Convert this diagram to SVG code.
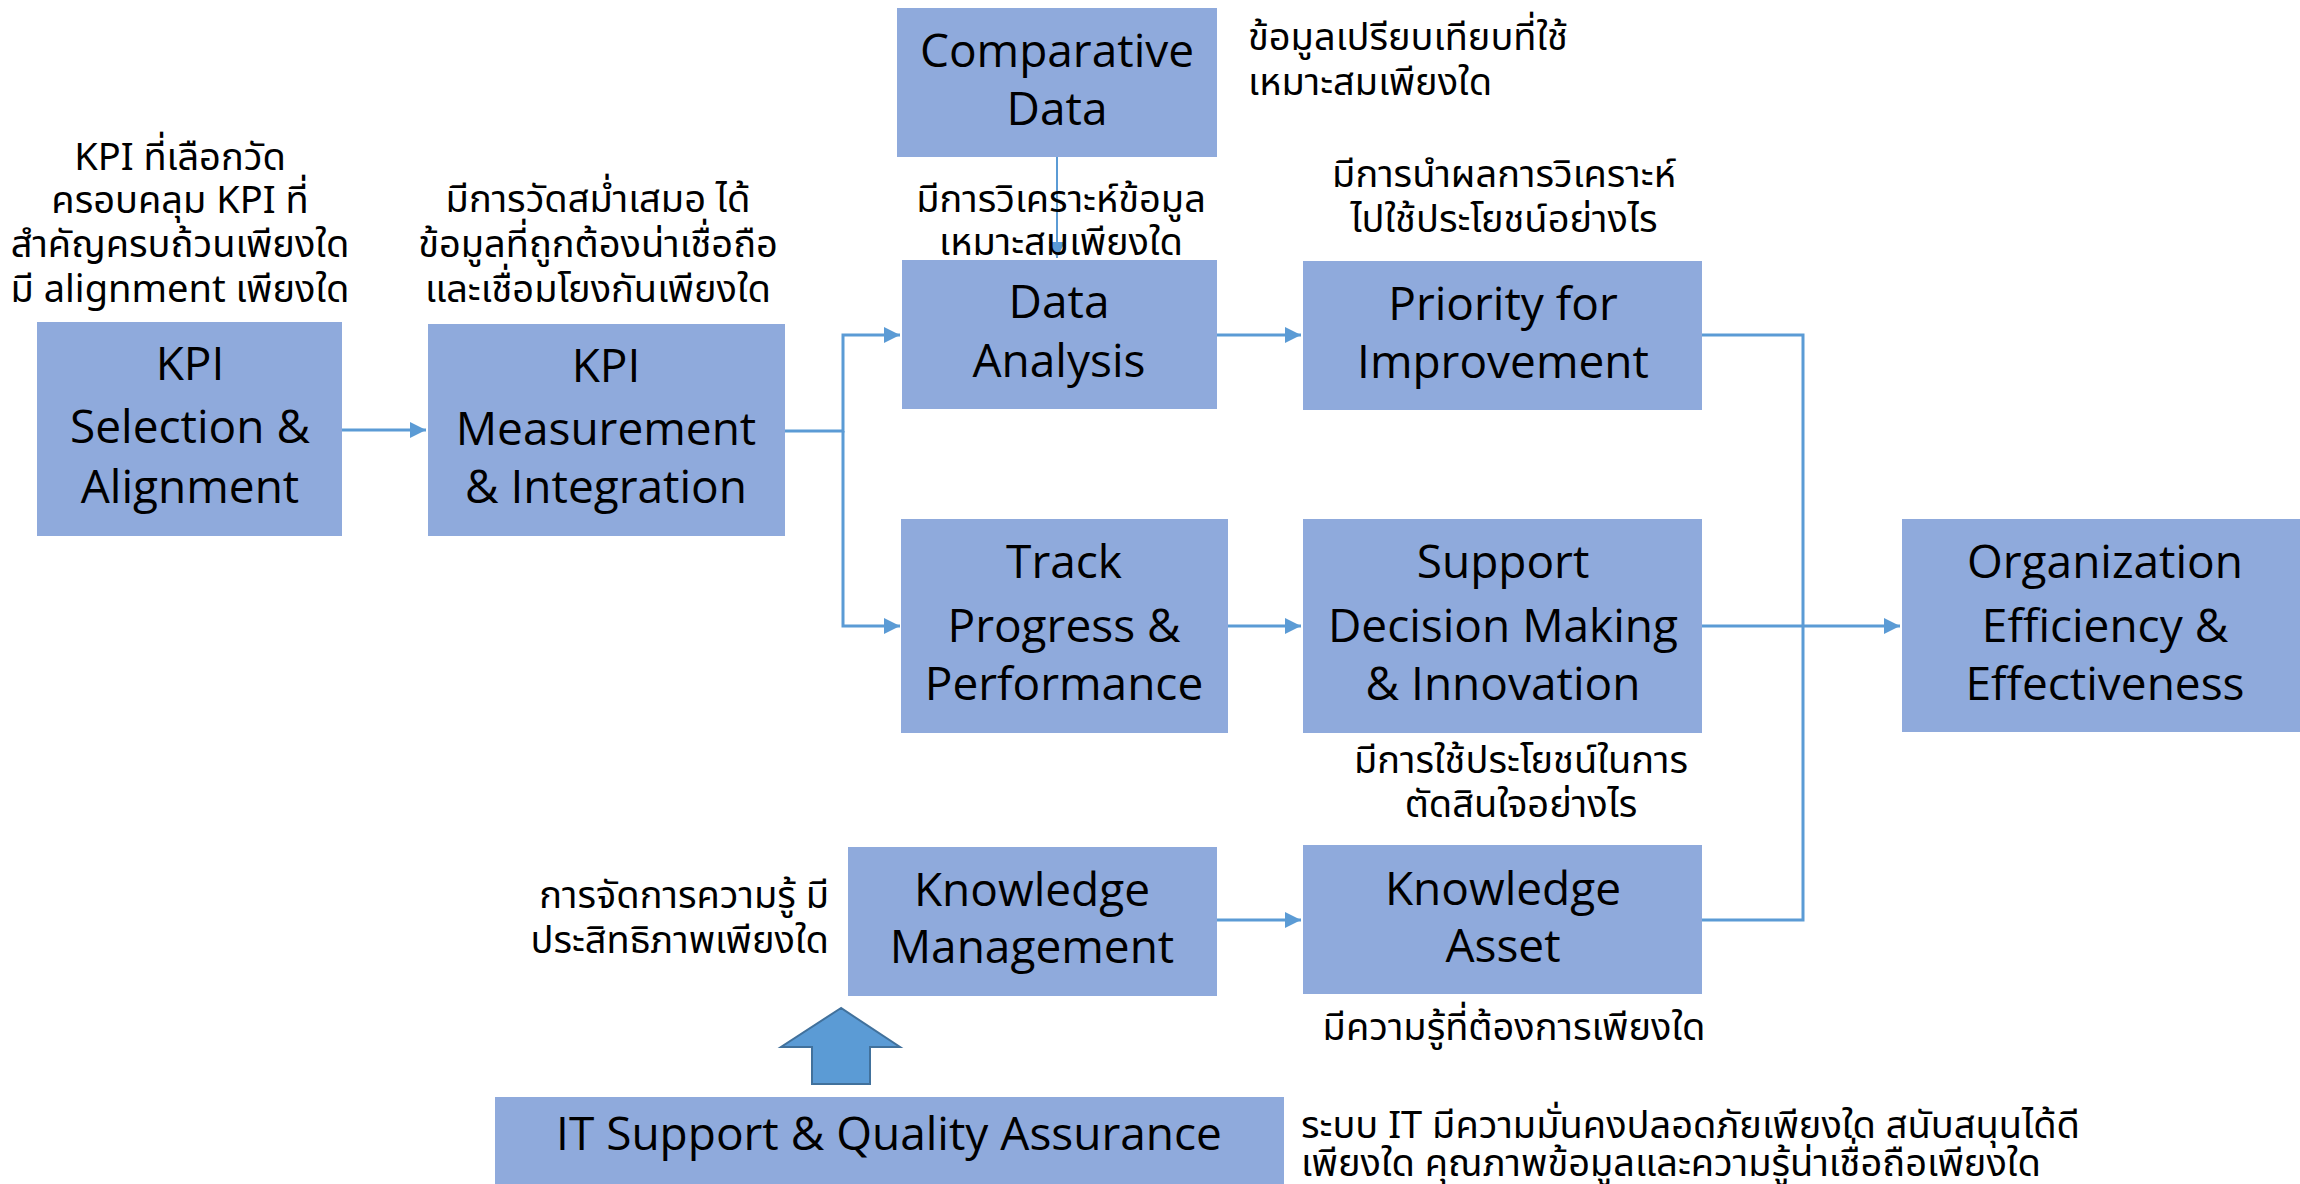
<svg xmlns="http://www.w3.org/2000/svg" width="2300" height="1184" viewBox="0 0 2300 1184">
<defs>
<marker id="ah" markerUnits="userSpaceOnUse" markerWidth="18" markerHeight="18" viewBox="0 0 18 18" refX="16" refY="9" orient="auto">
<path d="M0,1 L16,9 L0,17 Z" fill="#5B9BD5"/>
</marker>
<style>
.box{fill:#8FAADC}
.bt{font-family:"Open Sans","Noto Sans",sans-serif;font-size:46px;fill:#000;text-anchor:middle}
.th{font-family:"Noto Sans Thai","Noto Sans","Open Sans",sans-serif;font-size:38px;fill:#000}
.c{text-anchor:middle}
.r{text-anchor:end}
.l{text-anchor:start}
.cn{fill:none;stroke:#5B9BD5;stroke-width:3}
</style>
</defs>
<rect width="2300" height="1184" fill="#fff"/>

<g id="connectors">
<path class="cn" d="M342,430 H426" marker-end="url(#ah)"/>
<path class="cn" d="M785,431 H843 V335 H900" marker-end="url(#ah)"/>
<path class="cn" d="M843,431 V626 H900" marker-end="url(#ah)"/>
<path class="cn" d="M1057,157 V258" style="stroke-width:2" marker-end="url(#ah)"/>
<path class="cn" d="M1217,335 H1301" marker-end="url(#ah)"/>
<path class="cn" d="M1228,626 H1301" marker-end="url(#ah)"/>
<path class="cn" d="M1702,626 H1900" marker-end="url(#ah)"/>
<path class="cn" d="M1702,335 H1803 V626"/>
<path class="cn" d="M1702,920 H1803 V626"/>
<path class="cn" d="M1217,920 H1301" marker-end="url(#ah)"/>
<path d="M841,1008 L781,1047 L812,1047 L812,1084 L870,1084 L870,1047 L900,1047 Z" fill="#5B9BD5" stroke="#41719C" stroke-width="2"/>
</g>

<g id="kpi-selection">
<rect class="box" x="37" y="322" width="305" height="214"/>
<text class="bt" x="190" y="380">KPI</text>
<text class="bt" x="190" y="443">Selection &amp;</text>
<text class="bt" x="190" y="503">Alignment</text>
</g>

<g id="kpi-measurement">
<rect class="box" x="428" y="324" width="357" height="212"/>
<text class="bt" x="606" y="382">KPI</text>
<text class="bt" x="606" y="445">Measurement</text>
<text class="bt" x="606" y="503">&amp; Integration</text>
</g>

<g id="comparative-data">
<rect class="box" x="897" y="8" width="320" height="149"/>
<text class="bt" x="1057" y="67">Comparative</text>
<text class="bt" x="1057" y="125">Data</text>
</g>

<g id="data-analysis">
<rect class="box" x="902" y="260" width="315" height="149"/>
<text class="bt" x="1059" y="318">Data</text>
<text class="bt" x="1059" y="377">Analysis</text>
</g>

<g id="priority">
<rect class="box" x="1303" y="261" width="399" height="149"/>
<text class="bt" x="1503" y="320">Priority for</text>
<text class="bt" x="1503" y="378">Improvement</text>
</g>

<g id="track-progress">
<rect class="box" x="901" y="519" width="327" height="214"/>
<text class="bt" x="1064" y="578">Track</text>
<text class="bt" x="1064" y="642">Progress &amp;</text>
<text class="bt" x="1064" y="700">Performance</text>
</g>

<g id="support-decision">
<rect class="box" x="1303" y="519" width="399" height="214"/>
<text class="bt" x="1503" y="578">Support</text>
<text class="bt" x="1503" y="642">Decision Making</text>
<text class="bt" x="1503" y="700">&amp; Innovation</text>
</g>

<g id="organization">
<rect class="box" x="1902" y="519" width="398" height="213"/>
<text class="bt" x="2105" y="578">Organization</text>
<text class="bt" x="2105" y="642">Efficiency &amp;</text>
<text class="bt" x="2105" y="700">Effectiveness</text>
</g>

<g id="knowledge-management">
<rect class="box" x="848" y="847" width="369" height="149"/>
<text class="bt" x="1032" y="906">Knowledge</text>
<text class="bt" x="1032" y="963">Management</text>
</g>

<g id="knowledge-asset">
<rect class="box" x="1303" y="845" width="399" height="149"/>
<text class="bt" x="1503" y="905">Knowledge</text>
<text class="bt" x="1503" y="962">Asset</text>
</g>

<g id="it-support">
<rect class="box" x="495" y="1097" width="789" height="87"/>
<text class="bt" x="889" y="1150">IT Support &amp; Quality Assurance</text>
</g>

<g id="annotations">
<text class="th c" x="180" y="170">KPI ที่เลือกวัด</text>
<text class="th c" x="180" y="213">ครอบคลุม KPI ที่</text>
<text class="th c" x="180" y="257">สำคัญครบถ้วนเพียงใด</text>
<text class="th c" x="180" y="302">มี alignment เพียงใด</text>

<text class="th c" x="598" y="212">มีการวัดสม่ำเสมอ ได้</text>
<text class="th c" x="598" y="257">ข้อมูลที่ถูกต้องน่าเชื่อถือ</text>
<text class="th c" x="598" y="302">และเชื่อมโยงกันเพียงใด</text>

<text class="th l" x="1248" y="50">ข้อมูลเปรียบเทียบที่ใช้</text>
<text class="th l" x="1248" y="95">เหมาะสมเพียงใด</text>

<text class="th c" x="1061" y="212">มีการวิเคราะห์ข้อมูล</text>
<text class="th c" x="1061" y="255">เหมาะสมเพียงใด</text>

<text class="th c" x="1504" y="187">มีการนำผลการวิเคราะห์</text>
<text class="th c" x="1504" y="232">ไปใช้ประโยชน์อย่างไร</text>

<text class="th c" x="1521" y="773">มีการใช้ประโยชน์ในการ</text>
<text class="th c" x="1521" y="817">ตัดสินใจอย่างไร</text>

<text class="th r" x="829" y="908">การจัดการความรู้ มี</text>
<text class="th r" x="829" y="953">ประสิทธิภาพเพียงใด</text>

<text class="th c" x="1514" y="1040">มีความรู้ที่ต้องการเพียงใด</text>

<text class="th l" x="1301" y="1138">ระบบ IT มีความมั่นคงปลอดภัยเพียงใด สนับสนุนได้ดี</text>
<text class="th l" x="1301" y="1176">เพียงใด คุณภาพข้อมูลและความรู้น่าเชื่อถือเพียงใด</text>
</g>
</svg>
